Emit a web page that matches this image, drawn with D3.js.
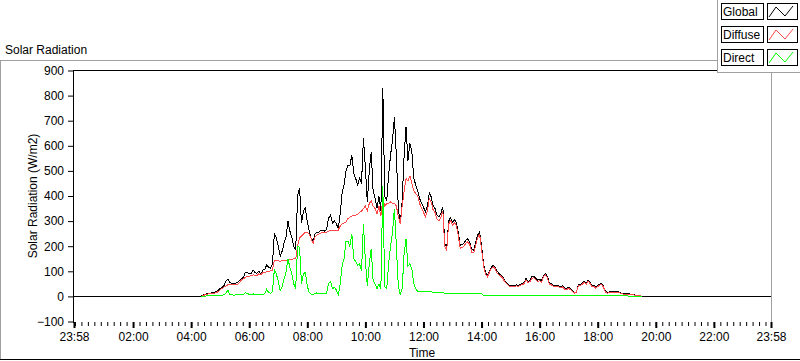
<!DOCTYPE html>
<html><head><meta charset="utf-8">
<script src="https://cdn.jsdelivr.net/npm/d3@7"></script>
<style>
html,body{margin:0;padding:0;background:#fff;}
svg{display:block;font-family:"Liberation Sans",Arial,sans-serif;}
</style></head><body>
<svg id="chart" width="800" height="361"></svg>
<script>
// ---------------- data ----------------
const chartTitle = "Solar Radiation";
const yAxisTitle = "Solar Radiation (W/m2)";
const xAxisTitle = "Time";
const seriesNames = ["Global", "Diffuse", "Direct"];
const seriesColors = ["#000000", "#ff4848", "#00ff00"];
const axisStartLabel = "23:58";     // previous day
const axisEndLabel = "23:58";
const nightValue = 0;               // global radiation at night
const dayStart = "04:20";
const stepMinutes = 4;
const globalVals = [
  0,4,8,10,12,12,16,17,18,24,
  32,36,44,60,70,56,52,50,52,56,
  64,70,76,96,96,90,92,106,94,92,
  100,90,104,108,124,116,112,128,252,232,
  200,160,180,212,236,300,260,236,200,184,
  400,432,292,340,352,296,260,232,220,248,
  256,256,264,264,260,268,312,324,292,300,
  290,268,330,416,444,500,524,520,564,490,
  470,444,470,450,632,512,376,500,576,420,
  392,352,400,340,832,400,380,484,564,620,
  716,560,352,290,380,560,676,540,610,576,
  470,444,420,390,372,356,336,360,412,396,
  360,350,324,316,332,356,212,192,300,314,
  296,304,296,252,204,206,214,224,230,214,
  186,184,216,244,256,200,132,96,84,100,
  116,124,116,100,92,84,76,62,56,46,
  44,44,44,46,44,48,52,54,72,60,
  64,78,80,72,64,68,62,84,92,80,
  54,50,44,44,44,42,38,42,32,32,
  36,30,24,16,18,48,48,52,60,52,
  66,56,44,44,36,44,48,52,40,20,
  16,18,18,20,20,20,18,14,12,10,
  10,10,9,8,6,4,4,3,0
];
const diffuseVals = [
  0,2,6,8,10,10,12,13,14,19,
  27,31,38,42,46,46,46,46,47,48,
  56,66,70,76,80,80,82,86,84,84,
  90,86,94,96,98,100,102,104,144,144,
  142,140,142,142,144,146,146,146,150,150,
  200,234,240,248,256,256,248,230,212,236,
  244,248,252,256,254,256,260,262,262,264,
  264,264,280,290,292,296,310,316,320,322,
  324,326,334,340,350,360,340,370,380,360,
  350,330,360,320,390,360,370,370,376,370,
  370,360,320,290,360,420,470,460,480,450,
  420,410,400,370,352,336,316,340,390,376,
  344,334,308,300,316,340,200,184,288,302,
  284,292,284,240,192,194,202,212,218,204,
  176,174,206,234,246,190,124,90,78,94,
  110,118,110,94,86,80,72,58,52,42,
  40,40,40,42,40,44,48,50,66,56,
  58,72,74,66,60,62,56,78,86,74,
  50,46,40,40,40,38,34,38,28,28,
  32,26,20,13,15,44,44,48,56,48,
  62,52,40,40,32,40,44,48,36,17,
  13,15,15,17,17,17,15,12,10,8,
  8,8,7,7,5,3,3,2,0
];
const directVals = [
  0,0,0,2,3,3,4,4,4,4,
  5,5,6,14,24,8,6,5,6,8,
  8,6,8,14,12,8,8,10,8,8,
  8,6,8,10,28,16,12,20,108,90,
  60,22,40,70,96,150,116,90,50,32,
  200,196,50,90,96,40,16,8,8,12,
  14,10,12,10,10,14,52,60,30,36,
  26,6,50,124,150,220,220,200,250,150,
  140,124,130,100,290,140,40,130,190,64,
  50,30,50,30,440,40,30,130,200,256,
  350,200,40,8,30,170,230,120,130,110,
  50,30,20,20,18,18,18,18,20,18,
  16,16,16,16,14,16,12,12,12,12,
  12,12,12,12,12,12,12,12,12,10,
  10,10,10,10,10,10,4,4,4,4,
  4,4,4,4,4,4,4,4,4,4,
  4,4,4,4,4,4,4,4,4,4,
  3,3,3,3,3,3,3,3,3,3,
  3,3,3,3,3,3,3,3,3,3,
  3,3,3,3,3,3,3,3,3,3,
  2,2,2,2,2,2,2,2,2,2,
  2,2,2,2,2,2,2,2,2,2,
  2,1,1,1,1,1,1,1,0
];
const xTickLabels = ["23:58","02:00","04:00","06:00","08:00","10:00","12:00","14:00","16:00","18:00","20:00","22:00","23:58"];
const yTicks = [-100,0,100,200,300,400,500,600,700,800,900];
const yDomain = [-100, 900];
const minorTicksPerMajor = 9;

// ---------------- helpers ----------------
const toMin = s => { const [h, m] = s.split(":").map(Number); return h * 60 + m; };
const axisStart = toMin(axisStartLabel) - 1440;   // -2 min
const axisEnd = toMin(axisEndLabel);              // 1438 min
const t0 = toMin(dayStart);

const svg = d3.select("#chart");
const plot = {left: 73, right: 771, top: 70.5, bottom: 321.5};

const x = d3.scaleLinear().domain([axisStart, axisEnd]).range([plot.left + 1, plot.right]);
const y = d3.scaleLinear().domain(yDomain).range([plot.bottom, plot.top]);

// outer panel lines
svg.append("rect").attr("x",0).attr("y",0).attr("width",800).attr("height",361).attr("fill","#fff");
svg.append("line").attr("x1",0.5).attr("x2",0.5).attr("y1",60).attr("y2",360).attr("stroke","#a0a0a0");
svg.append("line").attr("x1",0).attr("x2",718).attr("y1",60.5).attr("y2",60.5).attr("stroke","#a0a0a0");
svg.append("line").attr("x1",0).attr("x2",800).attr("y1",359.5).attr("y2",359.5).attr("stroke","#000");

// title
svg.append("text").attr("x",5).attr("y",54).attr("font-size",12).attr("fill","#000").text(chartTitle);

// plot frame
svg.append("line").attr("x1",plot.left).attr("x2",plot.right+1).attr("y1",70.5).attr("y2",70.5).attr("stroke","#000");
svg.append("line").attr("x1",plot.right+0.5).attr("x2",plot.right+0.5).attr("y1",70.5).attr("y2",322).attr("stroke","#a0a0a0");

// y axis
const yAxis = svg.append("g").attr("transform",`translate(${plot.left},0)`)
  .call(d3.axisLeft(y).tickValues(yTicks).tickSize(5).tickPadding(4).tickSizeOuter(0));
yAxis.select(".domain").remove();
yAxis.append("line").attr("x1",0.5).attr("x2",0.5).attr("y1",70).attr("y2",323).attr("stroke","#000");
yAxis.selectAll("text").attr("font-size",12).attr("font-family","Liberation Sans, Arial, sans-serif").attr("fill","#000");
yAxis.selectAll(".tick line").attr("stroke","#000");

// x axis
const xMajor = xTickLabels.map((l, i) => i === 0 ? axisStart : (i === xTickLabels.length - 1 ? axisEnd : toMin(l)));
const xMinor = [];
for (let h = 0; h < 24; h += 2) {
  for (let k = 0; k < minorTicksPerMajor; k++) {
    const v = h * 60 + k * 120 / minorTicksPerMajor;
    if (v > axisStart && v < axisEnd) xMinor.push(v);
  }
}
const xAxisG = svg.append("g").attr("transform",`translate(0,${plot.bottom + 0.5})`);
const minorG = xAxisG.append("g").call(d3.axisBottom(x).tickValues(xMinor).tickSize(4).tickFormat(""));
minorG.select(".domain").remove();
const majorG = xAxisG.append("g").call(d3.axisBottom(x).tickValues(xMajor).tickSize(6).tickPadding(4)
  .tickFormat((d, i) => xTickLabels[i]));
majorG.select(".domain").remove();
majorG.selectAll(".tick line").attr("stroke-width",2);
xAxisG.selectAll("text").attr("font-size",12).attr("font-family","Liberation Sans, Arial, sans-serif").attr("fill","#000");

// axis titles
svg.append("text").attr("transform",`translate(37,${(plot.top+plot.bottom)/2}) rotate(-90)`)
  .attr("text-anchor","middle").attr("font-size",12).attr("fill","#000").text(yAxisTitle);
svg.append("text").attr("x",(plot.left+plot.right)/2).attr("y",357)
  .attr("text-anchor","middle").attr("font-size",12).attr("fill","#000").text(xAxisTitle);

// series
const mk = vals => vals.map((v, i) => ({t: t0 + i * stepMinutes, v}));
const globalPts = [{t: axisStart, v: nightValue}, ...mk(globalVals), {t: axisEnd, v: nightValue}];
const seriesData = [globalPts, mk(diffuseVals), mk(directVals)];
const line = d3.line().x(d => x(d.t)).y(d => y(d.v));
const clip = svg.append("clipPath").attr("id","clip").append("rect")
  .attr("x",plot.left+1).attr("y",plot.top).attr("width",plot.right-plot.left-1).attr("height",plot.bottom-plot.top);
seriesData.forEach((d, i) => {
  svg.append("path").datum(d).attr("d", line).attr("fill","none")
    .attr("stroke", seriesColors[i]).attr("stroke-width",1)
    .attr("shape-rendering","crispEdges").attr("clip-path","url(#clip)");
});

// legend
const lg = svg.append("g").attr("transform","translate(717,0)");
lg.append("rect").attr("x",0.5).attr("y",-1).attr("width",90).attr("height",73.5).attr("fill","#fff").attr("stroke","#a0a0a0");
seriesNames.forEach((name, i) => {
  const gy = 3 + i * 23;
  const g = lg.append("g").attr("transform",`translate(0,${gy})`);
  g.append("rect").attr("x",4.5).attr("y",0.5).attr("width",42).attr("height",16).attr("fill","#fff").attr("stroke","#000");
  g.append("text").attr("x",6).attr("y",13).attr("font-size",12).attr("fill","#000").text(name);
  g.append("rect").attr("x",50.5).attr("y",0.5).attr("width",30).attr("height",16).attr("fill","#fff").attr("stroke","#000");
  g.append("path").attr("d","M52,14 L59,4 L68,13 L76,3").attr("fill","none").attr("stroke",seriesColors[i]).attr("stroke-width",1);
});
</script>
</body></html>
